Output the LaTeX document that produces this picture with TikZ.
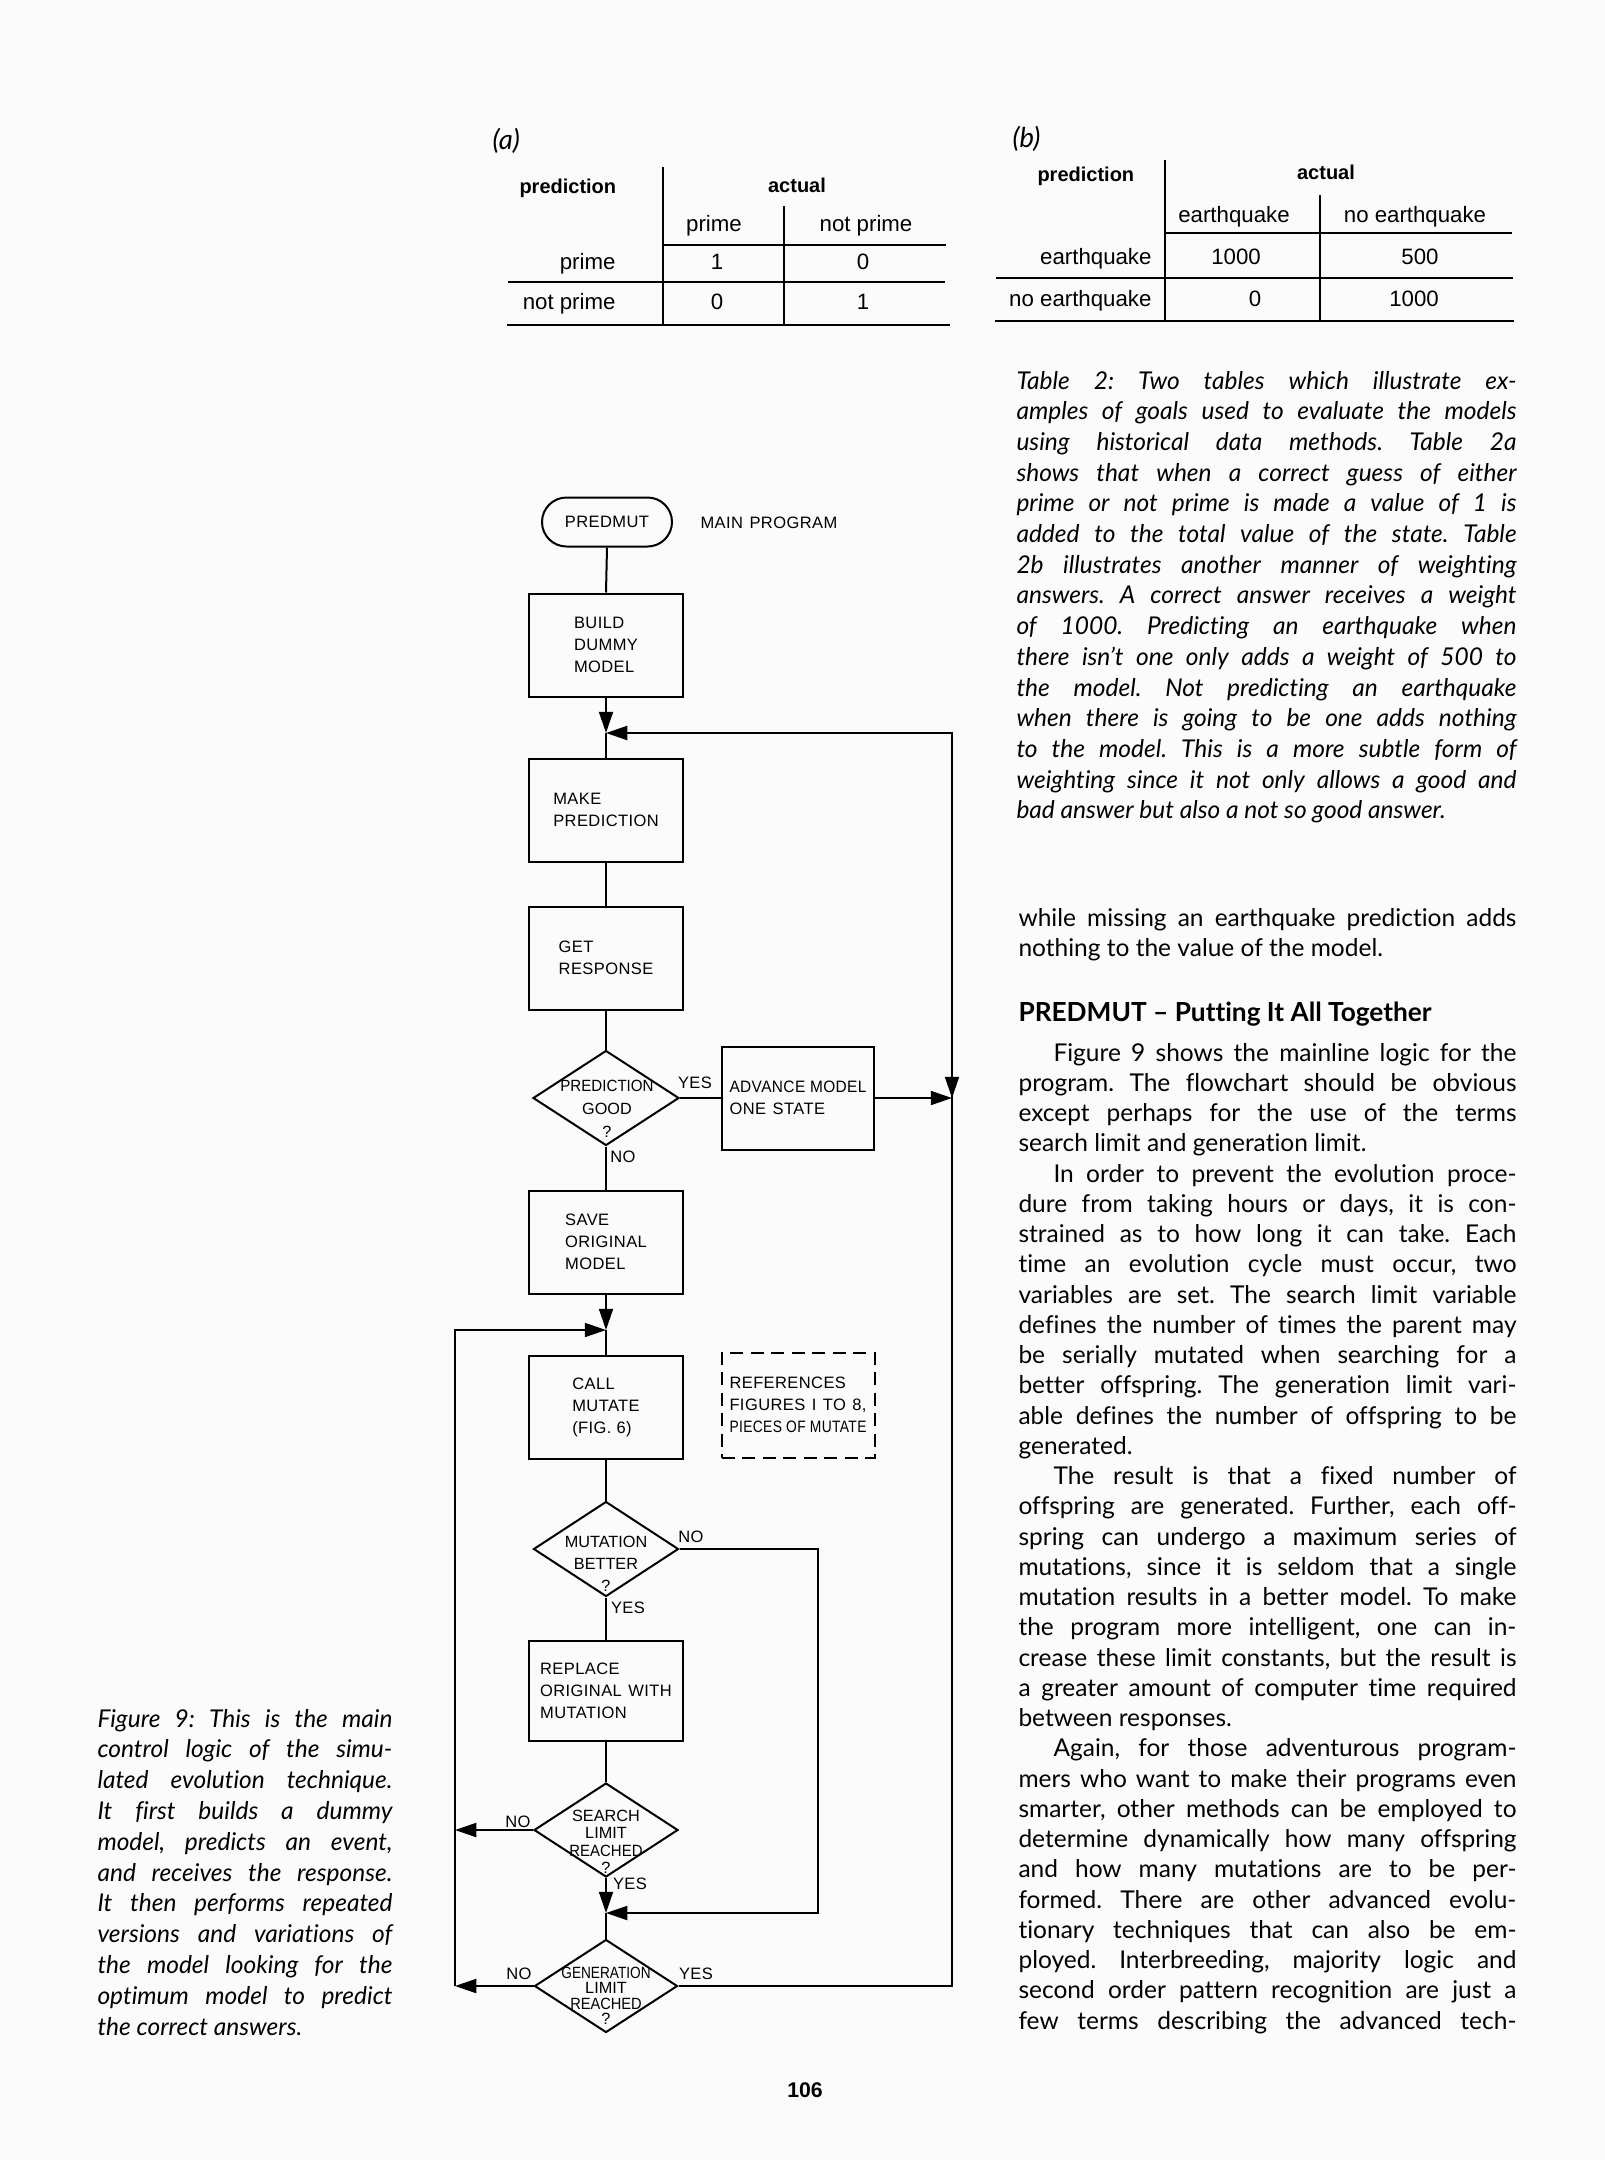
\documentclass[tikz,border=0pt]{standalone}
\usepackage{fontspec}
\usepackage{graphicx}
\usetikzlibrary{arrows.meta,shapes.geometric,shapes.misc}
\setmainfont{Lato}[Ligatures={TeX,CommonOff}]
\newfontfamily\helv{Liberation Sans}
\newfontfamily\flowf{Liberation Sans}[LetterSpace=2.5]
\frenchspacing
\newdimen\pxu \pxu=0.4pt
\newdimen\colW
\newdimen\natW
\newcommand\jl[1]{\sbox0{#1}\natW=\wd0\relax
  \ifdim\natW>\colW\relax
    \pgfmathsetmacro\jrat{\colW/\natW}\scalebox{\jrat}[1]{#1}%
  \else\makebox[\colW][s]{#1}\fi}
\newcommand\ji[1]{\hspace*{35\pxu}\advance\colW by -35\pxu\relax\jl{#1}}
\newcommand\lj[1]{#1}
\newcommand\fw[1]{\setlength{\colW}{137\pxu}\jl{#1}}
\begin{document}
\begin{tikzpicture}[x=0.4pt,y=-0.4pt,
  ln/.style={line width=0.8pt},
  arr/.style={-{Triangle[length=8.5pt,width=5.6pt]}},
  flow/.style={font=\flowf\fontsize{6.6pt}{8.8pt}\selectfont, inner sep=0pt},
  box/.style={flow, draw, line width=0.8pt, minimum width=154\pxu, minimum height=103\pxu, align=left},
  dbox/.style={box, dash pattern=on 5.2pt off 3pt},
  dia/.style={draw, diamond, line width=0.8pt, inner sep=0pt},
  dtext/.style={font=\helv\fontsize{6.5pt}{#1}\selectfont, align=center, inner sep=0pt},
  term/.style={flow, draw, rounded rectangle, line width=0.8pt, minimum width=130\pxu, minimum height=49\pxu},
  tb/.style={font=\helv\bfseries\fontsize{8pt}{10pt}\selectfont, inner sep=0pt},
  tr/.style={font=\helv\fontsize{8.9pt}{10pt}\selectfont, inner sep=0pt},
  body/.style={font=\fontsize{9.8pt}{12pt}\selectfont, inner sep=0pt, anchor=base west},
  capt/.style={font=\itshape\fontsize{9.8pt}{12pt}\selectfont, inner sep=0pt, anchor=base west},
]
\path[use as bounding box, fill=gray!3] (0,0) rectangle (1605,2160);

% ---------- Table (a)
\node[capt, font=\itshape\fontsize{11pt}{13pt}\selectfont] (la) at (492,149) {(a)};
\draw[ln] (663,167) -- (663,325);
\draw[ln] (784,206) -- (784,325);
\draw[ln] (663,245) -- (946,245);
\draw[ln] (508,282) -- (945,282);
\draw[ln] (507,325) -- (950,325);
\node[tb, anchor=base west] (ta1) at (519,193) {prediction};
\node[tb, anchor=base] (ta2) at (797,192) {actual};
\node[tr, anchor=base] (ta3) at (714,231) {prime};
\node[tr, anchor=base] (ta4) at (866,231) {not prime};
\node[tr, anchor=base east] (ta5) at (616,269) {prime};
\node[tr, anchor=base east] (ta6) at (616,309) {not prime};
\node[tr, anchor=base] (ta7) at (717,269) {1};
\node[tr, anchor=base] (ta8) at (863,269) {0};
\node[tr, anchor=base] (ta9) at (717,309) {0};
\node[tr, anchor=base] (ta10) at (863,309) {1};

% ---------- Table (b)
\node[capt, font=\itshape\fontsize{11pt}{13pt}\selectfont] (lb) at (1012,147) {(b)};
\draw[ln] (1165,160) -- (1165,322);
\draw[ln] (1320,195) -- (1320,322);
\draw[ln] (1165,233) -- (1512,233);
\draw[ln] (996,278) -- (1513,278);
\draw[ln] (995,321) -- (1514,321);
\node[tb, anchor=base west] (tb1) at (1037,181) {prediction};
\node[tb, anchor=base] (tb2) at (1326,179) {actual};
\node[tr, anchor=base] (tb3) at (1234,222) {earthquake};
\node[tr, anchor=base] (tb4) at (1415,222) {no earthquake};
\node[tr, anchor=base east] (tb5) at (1152,264) {earthquake};
\node[tr, anchor=base east] (tb6) at (1152,306) {no earthquake};
\node[tr, anchor=base] (tb7) at (1236,264) {1000};
\node[tr, anchor=base] (tb8) at (1420,264) {500};
\node[tr, anchor=base] (tb9) at (1255,306) {0};
\node[tr, anchor=base] (tb10) at (1414,306) {1000};

% ---------- Table 2 caption
\setlength{\colW}{500\pxu}
\foreach \t [count=\i from 0] in {
 {\jl{Table 2: Two tables which illustrate ex-}},
 {\jl{amples of goals used to evaluate the models}},
 {\jl{using historical data methods. Table 2a}},
 {\jl{shows that when a correct guess of either}},
 {\jl{prime or not prime is made a value of 1 is}},
 {\jl{added to the total value of the state. Table}},
 {\jl{2b illustrates another manner of weighting}},
 {\jl{answers. A correct answer receives a weight}},
 {\jl{of 1000. Predicting an earthquake when}},
 {\jl{there isn't one only adds a weight of 500 to}},
 {\jl{the model. Not predicting an earthquake}},
 {\jl{when there is going to be one adds nothing}},
 {\jl{to the model. This is a more subtle form of}},
 {\jl{weighting since it not only allows a good and}},
 {\lj{bad answer but also a not so good answer.}}
}{\node[capt] (tc\i) at (1016,{389+30.7*\i}) {\t};}

% ---------- Right column body
\setlength{\colW}{498\pxu}
\node[body] (b0) at (1018,926) {\jl{while missing an earthquake prediction adds}};
\node[body] (b1) at (1018,956) {nothing to the value of the model.};
\node[body, font=\bfseries\fontsize{10.5pt}{13pt}\selectfont] (head) at (1018,1021) {PREDMUT – Putting It All Together};
\foreach \t [count=\i from 0] in {
 {\ji{Figure 9 shows the mainline logic for the}},
 {\jl{program. The flowchart should be obvious}},
 {\jl{except perhaps for the use of the terms}},
 {\lj{search limit and generation limit.}},
 {\ji{In order to prevent the evolution proce-}},
 {\jl{dure from taking hours or days, it is con-}},
 {\jl{strained as to how long it can take. Each}},
 {\jl{time an evolution cycle must occur, two}},
 {\jl{variables are set. The search limit variable}},
 {\jl{defines the number of times the parent may}},
 {\jl{be serially mutated when searching for a}},
 {\jl{better offspring. The generation limit vari-}},
 {\jl{able defines the number of offspring to be}},
 {\lj{generated.}},
 {\ji{The result is that a fixed number of}},
 {\jl{offspring are generated. Further, each off-}},
 {\jl{spring can undergo a maximum series of}},
 {\jl{mutations, since it is seldom that a single}},
 {\jl{mutation results in a better model. To make}},
 {\jl{the program more intelligent, one can in-}},
 {\jl{crease these limit constants, but the result is}},
 {\jl{a greater amount of computer time required}},
 {\lj{between responses.}},
 {\ji{Again, for those adventurous program-}},
 {\jl{mers who want to make their programs even}},
 {\jl{smarter, other methods can be employed to}},
 {\jl{determine dynamically how many offspring}},
 {\jl{and how many mutations are to be per-}},
 {\jl{formed. There are other advanced evolu-}},
 {\jl{tionary techniques that can also be em-}},
 {\jl{ployed. Interbreeding, majority logic and}},
 {\jl{second order pattern recognition are just a}},
 {\jl{few terms describing the advanced tech-}}
}{\node[body] (bt\i) at (1018,{1061+30.25*\i}) {\t};}

% ---------- Figure 9 caption
\setlength{\colW}{295\pxu}
\foreach \t [count=\i from 0] in {
 {\jl{Figure 9: This is the main}},
 {\jl{control logic of the simu-}},
 {\jl{lated evolution technique.}},
 {\jl{It first builds a dummy}},
 {\jl{model, predicts an event,}},
 {\jl{and receives the response.}},
 {\jl{It then performs repeated}},
 {\jl{versions and variations of}},
 {\jl{the model looking for the}},
 {\jl{optimum model to predict}},
 {\lj{the correct answers.}}
}{\node[capt] (fc\i) at (97,{1727+30.8*\i}) {\t};}

% ---------- Flowchart
\node[term] (term) at (607,522) {PREDMUT};
\node[flow, anchor=west] (mainp) at (700,523) {MAIN\hspace{0.4em}PROGRAM};
\node[box] (build) at (606,645) {BUILD\\DUMMY\\MODEL};
\coordinate (j1) at (606,733);
\coordinate (r1) at (952,733);
\node[box] (make) at (606,810) {MAKE\\PREDICTION};
\node[box] (get) at (606,958) {GET\\RESPONSE};
\node[dia, minimum width=146\pxu, minimum height=95\pxu] (d1) at (606,1098) {};
\node[dtext=9.2pt] (d1t) at (607,1109) {\scalebox{0.93}[1]{PREDICTION}\\GOOD\\?};
\node[box, minimum width=152\pxu] (adv) at (798,1098) {\fw{ADVANCE MODEL}\\ONE\hspace{0.4em}STATE};
\coordinate (r2) at (952,1098);
\node[box] (save) at (606,1242) {SAVE\\ORIGINAL\\MODEL};
\coordinate (j3) at (606,1330);
\coordinate (l1) at (455,1330);
\node[box] (call) at (606,1407) {CALL\\MUTATE\\(FIG. 6)};
\node[dbox, minimum width=153\pxu, minimum height=105\pxu] (refs) at (798,1405) {REFERENCES\\\fw{FIGURES I TO 8,}\\\fw{PIECES OF MUTATE}};
\node[dia, minimum width=145\pxu, minimum height=95\pxu] (d2) at (606,1549) {};
\node[dtext=8.8pt] (d2t) at (606,1564) {MUTATION\\BETTER\\?};
\coordinate (c1) at (818,1549);
\node[box, minimum height=100\pxu] (repl) at (606,1691) {REPLACE\\ORIGINAL\hspace{0.4em}WITH\\MUTATION};
\node[dia, minimum width=144\pxu, minimum height=94\pxu] (d3) at (606,1830) {};
\node[dtext=7pt] (d3t) at (606,1842) {SEARCH\\LIMIT\\\scalebox{0.92}[1]{REACHED}\\?};
\coordinate (l3) at (455,1830);
\coordinate (j4) at (606,1913);
\node[dia, minimum width=143\pxu, minimum height=93\pxu] (d4) at (606,1986) {};
\node[dtext=6.2pt] (d4t) at (606,1996) {\scalebox{0.84}[1]{GENERATION}\\LIMIT\\\scalebox{0.9}[1]{REACHED}\\?};
\coordinate (l4) at (455,1986);
\coordinate (r4) at (952,1986);

\node[flow] (y1) at (695,1083) {YES};
\node[flow] (n1) at (623,1157) {NO};
\node[flow] (n2) at (691,1537) {NO};
\node[flow] (y2) at (628,1608) {YES};
\node[flow] (n3) at (518,1822) {NO};
\node[flow] (y3) at (630,1884) {YES};
\node[flow] (n4) at (519,1974) {NO};
\node[flow] (y4) at (696,1974) {YES};

\draw[ln] (term.south) -- (build.north);
\draw[ln,arr] (build.south) -- (j1);
\draw[ln] (j1) -- (make.north);
\draw[ln] (make.south) -- (get.north);
\draw[ln] (get.south) -- (d1.north);
\draw[ln] (d1.east) -- (adv.west);
\draw[ln,arr] (adv.east) -- (r2);
\draw[ln] (d1.south) -- (save.north);
\draw[ln,arr] (save.south) -- (j3);
\draw[ln] (j3) -- (call.north);
\draw[ln] (call.south) -- (d2.north);
\draw[ln] (d2.south) -- (repl.north);
\draw[ln] (repl.south) -- (d3.north);
\draw[ln,arr] (d3.south) -- (j4);
\draw[ln] (j4) -- (d4.north);
\draw[ln,arr] (d2.east) -- (c1) |- (j4);
\draw[ln,arr] (d3.west) -- (l3);
\draw[ln,arr] (d4.west) -- (l4);
\draw[ln,arr] (l4) -- (l1) -- (j3);
\draw[ln,arr] (d4.east) -- (r4) -- (r1) -- (j1);
\draw[ln,arr] (r1) -- (r2);

% ---------- page number
\node[font=\helv\bfseries\fontsize{8.5pt}{10pt}\selectfont, anchor=base, inner sep=0pt] (pg) at (805,2097) {106};
\end{tikzpicture}
\end{document}
